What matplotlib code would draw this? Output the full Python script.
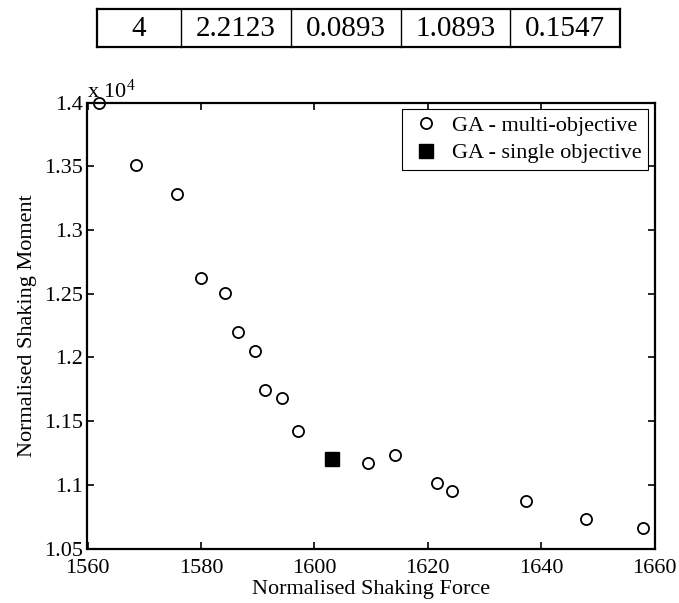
"""
Pareto front: shaking force vs shaking moment (GA multi / single objective)
"""
import matplotlib
matplotlib.use("Agg")
import matplotlib.pyplot as plt
from matplotlib.ticker import FuncFormatter, MultipleLocator

plt.rcParams['font.family'] = ['Liberation Serif', 'DejaVu Serif']
plt.rcParams['mathtext.default'] = 'regular'
plt.rcParams['font.size'] = 16

# table row above the chart (from the document)
table_row = ['4', '2.2123', '0.0893', '1.0893', '0.1547']

# GA multi-objective (Pareto points)
force_multi = [1562.0, 1568.5, 1575.8, 1580.1, 1584.2, 1586.5, 1589.5, 1591.3,
               1594.3, 1597.2, 1609.5, 1614.2, 1621.6, 1624.3, 1637.4, 1648.0, 1658.0]
moment_multi = [13995, 13512, 13285, 12619, 12507, 12196, 12047, 11740,
                11682, 11419, 11170, 11236, 11014, 10954, 10870, 10730, 10657]

# GA single objective
force_single = [1603.2]
moment_single = [11199]

W, H = 679, 603
fig = plt.figure(figsize=(W / 100, H / 100), dpi=100)

# --- table row ---
col_edges = [97, 181, 291, 401, 510, 620]
t_top, t_bot = 9, 47
def fx(px):
    return px / W
def fy(py):
    return 1 - py / H
for x0 in col_edges:
    lw = 1.6 if x0 in (col_edges[0], col_edges[-1]) else 1.0
    fig.add_artist(plt.Line2D([fx(x0), fx(x0)], [fy(t_top), fy(t_bot)], color='k', lw=lw))
for y0 in (t_top, t_bot):
    fig.add_artist(plt.Line2D([fx(col_edges[0]), fx(col_edges[-1])], [fy(y0), fy(y0)], color='k', lw=1.6))
for i, txt in enumerate(table_row):
    xc = (col_edges[i] + col_edges[i + 1]) / 2
    fig.text(fx(xc), fy((t_top + t_bot) / 2 + 1), txt, ha='center', va='center', fontsize=21)

# --- scatter chart ---
ax = fig.add_axes([87.5 / W, (H - 548.5) / H, 567 / W, 446 / H])
ax.plot(force_multi, moment_multi, 'o', mfc='white', mec='k', ms=8, mew=1.3,
        ls='none', label='GA - multi-objective', clip_on=False)
ax.plot(force_single, moment_single, 's', mfc='k', mec='k', ms=9.5,
        ls='none', label='GA - single objective')

ax.set_xlim(1560, 1660)
ax.set_ylim(10500, 14000)
ax.xaxis.set_major_locator(MultipleLocator(20))
ax.yaxis.set_major_locator(MultipleLocator(500))
ax.yaxis.set_major_formatter(FuncFormatter(lambda v, p: '%g' % round(v / 1e4, 4)))

ax.tick_params(direction='in', length=5, width=1.2, top=True, right=True, labelsize=16)
ax.tick_params(axis='x', pad=7.5)
ax.tick_params(axis='y', pad=3.5)
for s in ax.spines.values():
    s.set_linewidth(1.6)

ax.text(0.0, 1.0, r'x 10$^{4}$', transform=ax.transAxes, ha='left', va='bottom', fontsize=16)

ax.set_xlabel('Normalised Shaking Force', fontsize=16, labelpad=1.5)
ax.set_ylabel('Normalised Shaking Moment', fontsize=16, labelpad=5)

leg = ax.legend(loc='upper right', bbox_to_anchor=(0.9885, 0.9854), borderaxespad=0,
                fancybox=False, framealpha=1, edgecolor='k', fontsize=16,
                handlelength=1.6, handletextpad=0.35, borderpad=0.3, labelspacing=0.3)
leg.get_frame().set_linewidth(0.8)

fig.savefig('out.png', dpi=100)
